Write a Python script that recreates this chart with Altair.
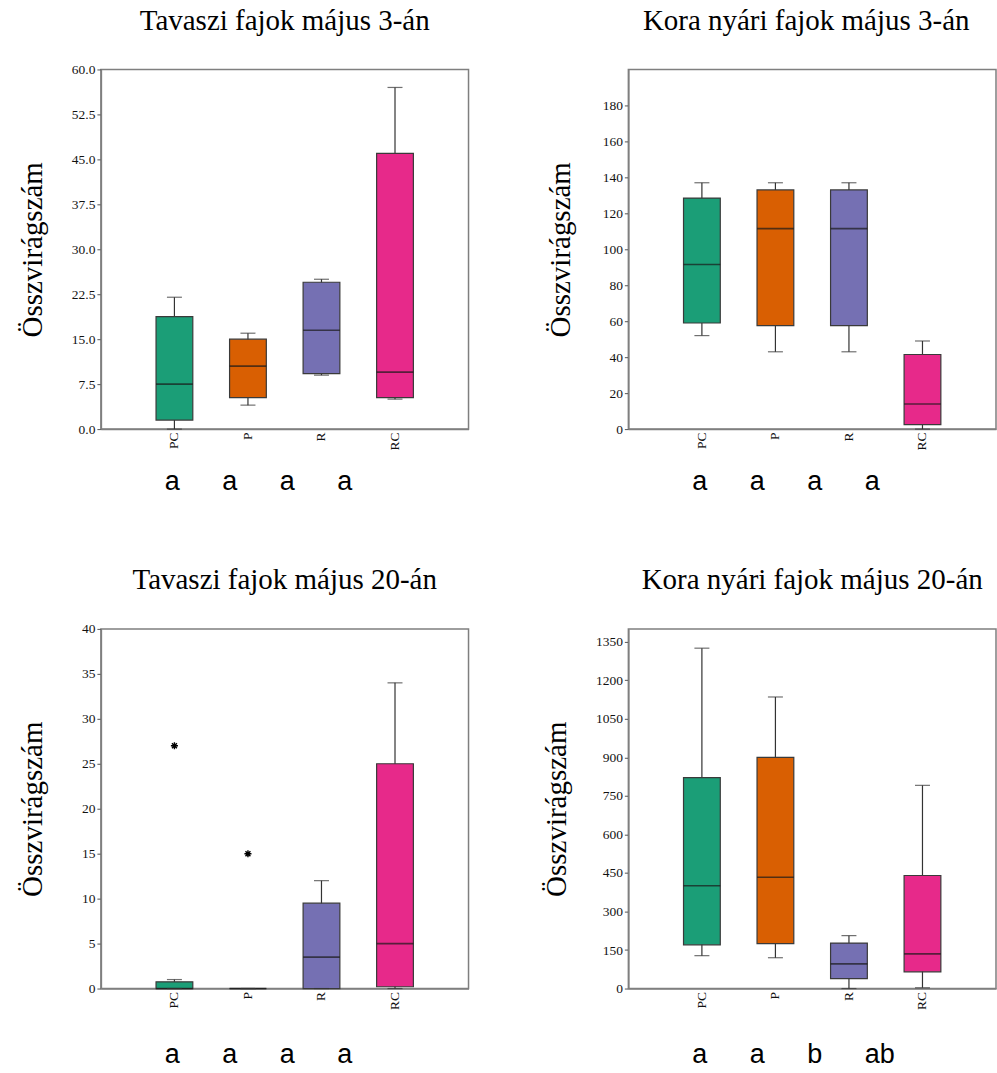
import altair as alt
import pandas as pd

GROUPS = ["PC", "P", "R", "RC"]
BOX_COLORS = ["#1b9e77", "#d95f02", "#7570b3", "#e7298a"]
Y_TITLE = "Összvirágszám"

# Tavaszi fajok május 3-án
spring_may03_low = [0.0, 4.0, 9.0, 5.0]
spring_may03_q1 = [1.5, 5.25, 9.25, 5.25]
spring_may03_median = [7.5, 10.5, 16.5, 9.5]
spring_may03_q3 = [18.75, 15.0, 24.5, 46.0]
spring_may03_high = [22.0, 16.0, 25.0, 57.0]
spring_may03_letters = ["a", "a", "a", "a"]
spring_may03_ticks = [0, 7.5, 15, 22.5, 30, 37.5, 45, 52.5, 60]

# Kora nyári fajok május 3-án
summer_may03_low = [52, 43, 43, 0]
summer_may03_q1 = [59, 57.5, 57.5, 2.5]
summer_may03_median = [91.5, 111.5, 111.5, 14]
summer_may03_q3 = [128.5, 133, 133, 41.5]
summer_may03_high = [137, 137, 137, 49]
summer_may03_letters = ["a", "a", "a", "a"]
summer_may03_ticks = [0, 20, 40, 60, 80, 100, 120, 140, 160, 180]

# Tavaszi fajok május 20-án
spring_may20_low = [0, 0, 0, 0]
spring_may20_q1 = [0, 0, 0, 0.2]
spring_may20_median = [0, 0, 3.5, 5]
spring_may20_q3 = [0.75, 0, 9.5, 25]
spring_may20_high = [1, 0, 12, 34]
spring_may20_letters = ["a", "a", "a", "a"]
spring_may20_outlier_groups = ["PC", "P"]
spring_may20_outlier_values = [27, 15]
spring_may20_ticks = [0, 5, 10, 15, 20, 25, 30, 35, 40]

# Kora nyári fajok május 20-án
summer_may20_low = [128, 120, 0, 3]
summer_may20_q1 = [170, 175, 39, 65]
summer_may20_median = [400, 433, 96, 135]
summer_may20_q3 = [821, 900, 177, 440]
summer_may20_high = [1325, 1135, 206, 791]
summer_may20_letters = ["a", "a", "b", "ab"]
summer_may20_ticks = [0, 150, 300, 450, 600, 750, 900, 1050, 1200, 1350]

# panel geometry
W, H = 368, 360
BAND = W / 10          # box width: half of one category step
CAP = 15               # whisker cap width
LETTER_LEFT = 64       # left edge of the first significance letter
LETTER_STEP = 57.5
FRAME_GREY = "#7f7f7f"
LINE_DARK = "#333333"
ASTERISK = "M-1,0L1,0M0,-1L0,1M-0.7,-0.7L0.7,0.7M-0.7,0.7L0.7,-0.7"


def panel(title, low, q1, med, q3, high, letters, y_max, y_ticks, y_format,
          title_offset, title_x, letter_drop, out_groups=None, out_values=None,
          title_dx=0):
    box = pd.DataFrame({"group": GROUPS, "low": low, "q1": q1, "median": med,
                        "q3": q3, "high": high})

    x = alt.X("group:N", sort=GROUPS,
              scale=alt.Scale(domain=GROUPS, paddingInner=0.5, paddingOuter=0.75),
              axis=alt.Axis(title=None, labelAngle=270, labelAlign="right",
                            labelBaseline="middle", ticks=False, labelPadding=3))
    y_scale = alt.Scale(domain=[0, y_max], nice=False, zero=True)
    y_axis = alt.Axis(values=y_ticks, format=y_format, title=Y_TITLE,
                      titleX=title_x, titleY=H / 2, titleBaseline="bottom",
                      titleAngle=270, tickSize=4, labelPadding=2)

    def y(field):
        return alt.Y(f"{field}:Q", scale=y_scale, axis=y_axis)

    base = alt.Chart(box).encode(x=x)
    whisker = base.mark_rule(color=LINE_DARK, strokeWidth=1.2).encode(
        y=y("low"), y2="high")
    body = base.mark_bar(stroke="#3a3a3a", strokeWidth=1.2).encode(
        y=y("q1"), y2="q3",
        color=alt.Color("group:N", scale=alt.Scale(domain=GROUPS, range=BOX_COLORS),
                        legend=None))
    median = base.mark_tick(color="#1a1a1a", thickness=1.6, size=BAND).encode(y=y("median"))
    cap_low = base.mark_tick(color=LINE_DARK, thickness=1.2, size=CAP).encode(y=y("low"))
    cap_high = base.mark_tick(color=LINE_DARK, thickness=1.2, size=CAP).encode(y=y("high"))
    layers = [whisker, body, median, cap_low, cap_high]

    if out_groups:
        outliers = pd.DataFrame({"group": out_groups, "value": out_values})
        layers.append(
            alt.Chart(outliers).mark_point(shape=ASTERISK, size=50, filled=False,
                                           color="black", strokeWidth=1.4, opacity=1)
            .encode(x=x, y=y("value")))

    boxes = alt.layer(*layers)

    sig = pd.DataFrame({"letter": letters,
                        "pos": [LETTER_LEFT + i * LETTER_STEP for i in range(len(letters))]})
    sig_text = alt.Chart(sig).mark_text(
        font="Liberation Sans", fontSize=27, align="left", baseline="alphabetic",
        color="black").encode(
        x=alt.X("pos:Q", scale=alt.Scale(domain=[0, W]), axis=None),
        y=alt.value(H + letter_drop),
        text="letter:N")

    return alt.layer(boxes, sig_text).resolve_scale(x="independent").properties(
        width=W, height=H,
        title=alt.TitleParams(title, font="Liberation Serif", fontSize=29,
                              fontWeight="normal", anchor="middle", frame="group",
                              baseline="alphabetic", offset=title_offset,
                              dx=title_dx, color="black"))


p1 = panel("Tavaszi fajok május 3-án", spring_may03_low, spring_may03_q1,
           spring_may03_median, spring_may03_q3, spring_may03_high,
           spring_may03_letters, 60, spring_may03_ticks, ".1f", 4, -53, 61)
p2 = panel("Kora nyári fajok május 3-án", summer_may03_low, summer_may03_q1,
           summer_may03_median, summer_may03_q3, summer_may03_high,
           summer_may03_letters, 200, summer_may03_ticks, "d", 11, -53, 61,
           title_dx=-6)
p3 = panel("Tavaszi fajok május 20-án", spring_may20_low, spring_may20_q1,
           spring_may20_median, spring_may20_q3, spring_may20_high,
           spring_may20_letters, 40, spring_may20_ticks, "d", 4, -53, 75,
           spring_may20_outlier_groups, spring_may20_outlier_values)
p4 = panel("Kora nyári fajok május 20-án", summer_may20_low, summer_may20_q1,
           summer_may20_median, summer_may20_q3, summer_may20_high,
           summer_may20_letters, 1400, summer_may20_ticks, "d", 11, -57, 75)

chart = alt.concat(
    p1, p2, p3, p4, columns=2,
    spacing={"row": 200, "column": 160}, bounds="flush",
    padding={"left": 18, "top": 5, "right": 0, "bottom": 0},
    background="white",
).configure_view(
    stroke=FRAME_GREY, strokeWidth=1.5
).configure_axis(
    grid=False, domainColor=FRAME_GREY, domainWidth=1.5, tickColor="#555555",
    labelColor="#111111", labelFont="Liberation Serif", labelFontSize=13.5,
    titleFont="Liberation Serif", titleFontSize=29, titleFontWeight="normal",
    titleColor="black"
)

chart.save("out.html", embed_options={"renderer": "svg", "actions": False})
